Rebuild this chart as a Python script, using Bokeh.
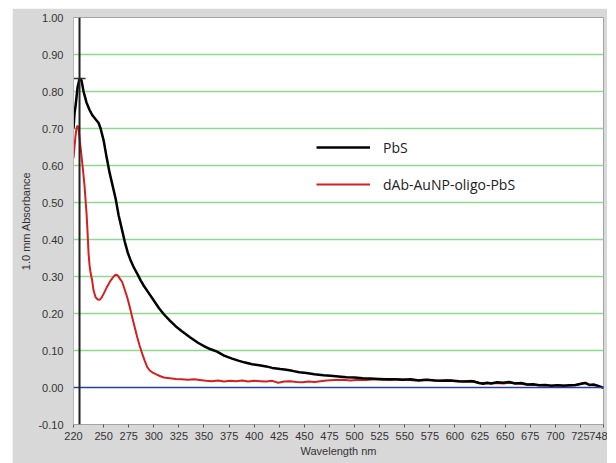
from bokeh.plotting import figure
from bokeh.models import (Range1d, FixedTicker, Span, Legend, LegendItem,
                          NumeralTickFormatter)
from bokeh.embed import file_html
from bokeh.resources import INLINE

# Wavelength (nm) and absorbance of the PbS sample
pbs_wl = [220, 221, 222, 224, 226, 228, 230, 233, 236, 239, 242, 245, 247, 250,
          253, 256, 259, 262, 265, 268, 271, 274, 277, 280, 284, 287, 290, 295,
          300, 305, 310, 316, 322, 328, 336, 344, 350, 356, 363, 370, 378, 385,
          390, 398, 405, 412, 418, 426, 432, 438, 445, 452, 460, 469, 476, 484,
          492, 500, 508, 516, 524, 532, 540, 548, 556, 564, 572, 580, 588, 596,
          604, 612, 618, 624, 628, 632, 636, 642, 648, 654, 660, 666, 672, 678,
          684, 690, 696, 702, 708, 714, 720, 726, 730, 734, 738, 742, 746, 748]
pbs_abs = [0.700, 0.740, 0.760, 0.810, 0.835, 0.830, 0.800, 0.770, 0.750, 0.735,
           0.725, 0.715, 0.700, 0.668, 0.622, 0.580, 0.545, 0.510, 0.465, 0.430,
           0.395, 0.365, 0.343, 0.325, 0.305, 0.289, 0.275, 0.255, 0.235, 0.215,
           0.198, 0.181, 0.165, 0.152, 0.136, 0.121, 0.112, 0.104, 0.097, 0.086,
           0.078, 0.072, 0.068, 0.063, 0.060, 0.057, 0.053, 0.050, 0.048, 0.045,
           0.041, 0.039, 0.036, 0.033, 0.032, 0.030, 0.028, 0.027, 0.025, 0.024,
           0.023, 0.022, 0.022, 0.021, 0.022, 0.019, 0.021, 0.019, 0.018, 0.019,
           0.017, 0.016, 0.017, 0.012, 0.010, 0.013, 0.011, 0.014, 0.013, 0.015,
           0.011, 0.012, 0.008, 0.009, 0.006, 0.007, 0.005, 0.006, 0.005, 0.006,
           0.007, 0.010, 0.012, 0.007, 0.008, 0.005, 0.001, -0.001]

# Wavelength (nm) and absorbance of the dAb-AuNP-oligo-PbS conjugate
conj_wl = [220, 221, 222, 223, 224, 225, 227, 229, 231, 233, 234, 235, 236, 237,
           238.6, 240, 242, 244, 246, 248, 250, 253, 257, 260, 262, 264, 266,
           268.5, 271, 273.5, 276, 278.5, 281, 283.5, 286, 288.5, 291, 293.5, 296,
           299, 302, 306, 310, 316, 322, 328, 334, 340, 346, 352, 358, 364, 370,
           376, 382, 388, 394, 400, 406, 412, 418, 424, 430, 436, 442, 448, 454,
           460, 466, 472, 480, 488, 496, 504, 512, 520, 528, 536, 544, 552, 560,
           568, 576, 584, 592, 600, 608, 616, 624, 632, 640, 648, 656, 664, 672,
           680, 688, 696, 704, 712, 720, 726, 730, 734, 740, 746, 748]
conj_abs = [0.620, 0.650, 0.680, 0.700, 0.708, 0.700, 0.650, 0.600, 0.545, 0.470,
            0.420, 0.362, 0.330, 0.310, 0.289, 0.262, 0.244, 0.238, 0.237, 0.243,
            0.253, 0.270, 0.289, 0.300, 0.305, 0.303, 0.295, 0.285, 0.265, 0.244,
            0.218, 0.190, 0.163, 0.136, 0.112, 0.091, 0.072, 0.055, 0.046, 0.040,
            0.036, 0.031, 0.027, 0.025, 0.023, 0.022, 0.021, 0.022, 0.020, 0.018,
            0.017, 0.019, 0.016, 0.018, 0.017, 0.019, 0.016, 0.018, 0.017, 0.016,
            0.018, 0.013, 0.016, 0.017, 0.015, 0.014, 0.016, 0.015, 0.017, 0.019,
            0.020, 0.021, 0.019, 0.021, 0.020, 0.022, 0.021, 0.020, 0.022, 0.021,
            0.019, 0.021, 0.020, 0.018, 0.020, 0.017, 0.016, 0.018, 0.013, 0.011,
            0.012, 0.011, 0.013, 0.010, 0.008, 0.007, 0.006, 0.005, 0.006, 0.005,
            0.006, 0.011, 0.013, 0.007, 0.006, 0.001, 0.000]

x_ticks = [220, 250, 275, 300, 325, 350, 375, 400, 425, 450, 475, 500, 525, 550,
           575, 600, 625, 650, 675, 700, 725, 748]
y_ticks = [-0.1, 0.0, 0.1, 0.2, 0.3, 0.4, 0.5, 0.6, 0.7, 0.8, 0.9, 1.0]
grid_levels = [0.1, 0.2, 0.3, 0.4, 0.5, 0.6, 0.7, 0.8, 0.9]
cursor_wl = 226

PANEL = "#d8d8d8"
TICK_FONT = "Liberation Sans"

p = figure(width=595, height=455, output_backend="svg", toolbar_location=None,
           x_range=Range1d(220, 748), y_range=Range1d(-0.1, 1.0),
           min_border_left=61, min_border_right=4, min_border_top=9,
           min_border_bottom=39)
p.margin = (8, 9, 0, 12)
p.border_fill_color = PANEL
p.background_fill_color = "white"
p.outline_line_color = "#a4a4a4"
p.outline_line_width = 1

# axes
p.xaxis.ticker = FixedTicker(ticks=x_ticks)
p.yaxis.ticker = FixedTicker(ticks=y_ticks)
p.yaxis.formatter = NumeralTickFormatter(format="0.00")
for ax in (p.xaxis[0], p.yaxis[0]):
    ax.major_label_text_font = TICK_FONT
    ax.major_label_text_font_size = "11px"
    ax.major_label_text_color = "#333333"
    ax.axis_label_text_font = TICK_FONT
    ax.axis_label_text_font_size = "11px"
    ax.axis_label_text_font_style = "normal"
    ax.axis_label_text_color = "#333333"
    ax.minor_tick_line_color = None
    ax.major_tick_in = 0

p.xaxis.axis_label = "Wavelength nm"
p.xaxis.axis_line_color = None
p.xaxis.major_tick_out = 3
p.xaxis.major_tick_line_color = "#555555"
p.xaxis.major_label_standoff = 4
p.xaxis.axis_label_standoff = 2

p.yaxis.axis_label = "1.0 mm Absorbance"
p.yaxis.axis_line_color = "#b8b8b8"
p.yaxis.major_tick_out = 0
p.yaxis.major_tick_line_color = None
p.yaxis.major_label_standoff = 10
p.yaxis.axis_label_standoff = 3

# grid: green horizontal lines, no vertical lines
p.xgrid.grid_line_color = None
p.ygrid.ticker = FixedTicker(ticks=grid_levels)
p.ygrid.grid_line_color = "#8fd88f"
p.ygrid.grid_line_width = 1.5

# zero baseline
p.add_layout(Span(location=0, dimension="width", line_color="#2741a0",
                  line_width=1.5))

# spectra
r_conj = p.line(conj_wl, conj_abs, line_color="#d42020", line_width=2)
r_pbs = p.line(pbs_wl, pbs_abs, line_color="black", line_width=2.5)

# cursor line and peak marker
p.add_layout(Span(location=cursor_wl, dimension="height", line_color="#222222",
                  line_width=2))
peak = max(pbs_abs)
peak_wl = pbs_wl[pbs_abs.index(peak)]
p.segment(x0=[peak_wl - 6], y0=[peak], x1=[peak_wl + 6], y1=[peak],
          line_color="#333333", line_width=1.5)

legend = Legend(items=[LegendItem(label="PbS", renderers=[r_pbs]),
                       LegendItem(label="dAb-AuNP-oligo-PbS", renderers=[r_conj])],
                location=(243, 230), orientation="vertical",
                glyph_width=54, glyph_height=20, label_height=20,
                label_standoff=13, spacing=17, padding=0, margin=0,
                border_line_color=None, background_fill_alpha=0,
                label_text_font="Open Sans", label_text_font_size="14px",
                label_text_color="#222222")
p.add_layout(legend)

open("out.html", "w").write(file_html(p, INLINE))
